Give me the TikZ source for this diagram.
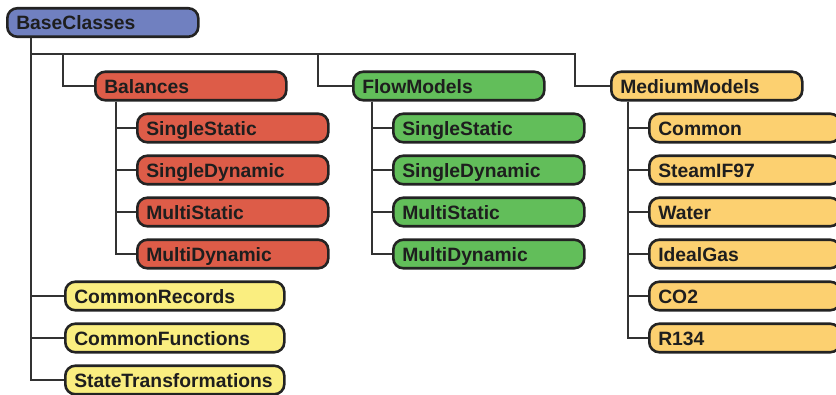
\documentclass[tikz,border=0pt]{standalone}
\usepackage{fontspec}
\setmainfont{Liberation Sans}
\definecolor{cblue}{RGB}{112,128,192}
\definecolor{cred}{RGB}{221,92,72}
\definecolor{cgreen}{RGB}{98,190,90}
\definecolor{corange}{RGB}{252,208,112}
\definecolor{cyellow}{RGB}{250,238,128}
\definecolor{cline}{RGB}{35,35,35}
\tikzset{
  pkg/.style={draw=cline, line width=2.6pt, rounded corners=10pt, anchor=west,
    minimum height=28.5pt, inner xsep=9pt, inner ysep=0pt, align=left,
    text height=14pt, text depth=0pt,
    text={rgb,255:red,30;green,30;blue,30}, font=\fontsize{19.3}{22}\selectfont\bfseries},
  w191/.style={text width=173pt},
  w219/.style={text width=201pt},
  conn/.style={draw={rgb,255:red,50;green,50;blue,50}, line width=1.3pt}
}
\begin{document}
\begin{tikzpicture}[x=1pt,y=-1pt]
\useasboundingbox (0,0) rectangle (836,394);
% nodes
\node[pkg,w191,fill=cblue] (base) at (6,22.5) {BaseClasses};
\node[pkg,w191,fill=cred] (bal) at (94,86) {Balances};
\node[pkg,w191,fill=cgreen] (flow) at (352,86) {FlowModels};
\node[pkg,w191,fill=corange] (med) at (610,86) {MediumModels};
\node[pkg,w191,fill=cred] (b1) at (136,128) {SingleStatic};
\node[pkg,w191,fill=cred] (b2) at (136,170) {SingleDynamic};
\node[pkg,w191,fill=cred] (b3) at (136,212) {MultiStatic};
\node[pkg,w191,fill=cred] (b4) at (136,254) {MultiDynamic};
\node[pkg,w191,fill=cgreen] (f1) at (392,128) {SingleStatic};
\node[pkg,w191,fill=cgreen] (f2) at (392,170) {SingleDynamic};
\node[pkg,w191,fill=cgreen] (f3) at (392,212) {MultiStatic};
\node[pkg,w191,fill=cgreen] (f4) at (392,254) {MultiDynamic};
\node[pkg,w191,fill=corange] (m1) at (648,128) {Common};
\node[pkg,w191,fill=corange] (m2) at (648,170) {SteamIF97};
\node[pkg,w191,fill=corange] (m3) at (648,212) {Water};
\node[pkg,w191,fill=corange] (m4) at (648,254) {IdealGas};
\node[pkg,w191,fill=corange] (m5) at (648,296) {CO2};
\node[pkg,w191,fill=corange] (m6) at (648,338) {R134};
\node[pkg,w219,fill=cyellow] (y1) at (64,296) {CommonRecords};
\node[pkg,w219,fill=cyellow] (y2) at (64,338) {CommonFunctions};
\node[pkg,w219,fill=cyellow] (y3) at (64,380) {StateTransformations};
% connector anchors
\coordinate (bx) at ([xshift=25pt]base.south west);
\coordinate (hj) at ([yshift=-16pt]bx);
\coordinate (balx) at ([xshift=-31pt]bal.west);
\coordinate (flowx) at ([xshift=-34pt]flow.west);
\coordinate (medx) at ([xshift=-35pt]med.west);
\coordinate (bbx) at ([xshift=22pt]bal.south west);
\coordinate (ffx) at ([xshift=20pt]flow.south west);
\coordinate (mmx) at ([xshift=18pt]med.south west);
% connectors
\draw[conn] (bx) |- (y1.west);
\draw[conn] (bx) |- (y2.west);
\draw[conn] (bx) |- (y3.west);
\draw[conn] (hj) -| (medx) -- (med.west);
\draw[conn] (balx |- hj) |- (bal.west);
\draw[conn] (flowx |- hj) |- (flow.west);
\foreach \c in {b1,b2,b3,b4} \draw[conn] (bbx) |- (\c.west);
\foreach \c in {f1,f2,f3,f4} \draw[conn] (ffx) |- (\c.west);
\foreach \c in {m1,m2,m3,m4,m5,m6} \draw[conn] (mmx) |- (\c.west);
\end{tikzpicture}
\end{document}
